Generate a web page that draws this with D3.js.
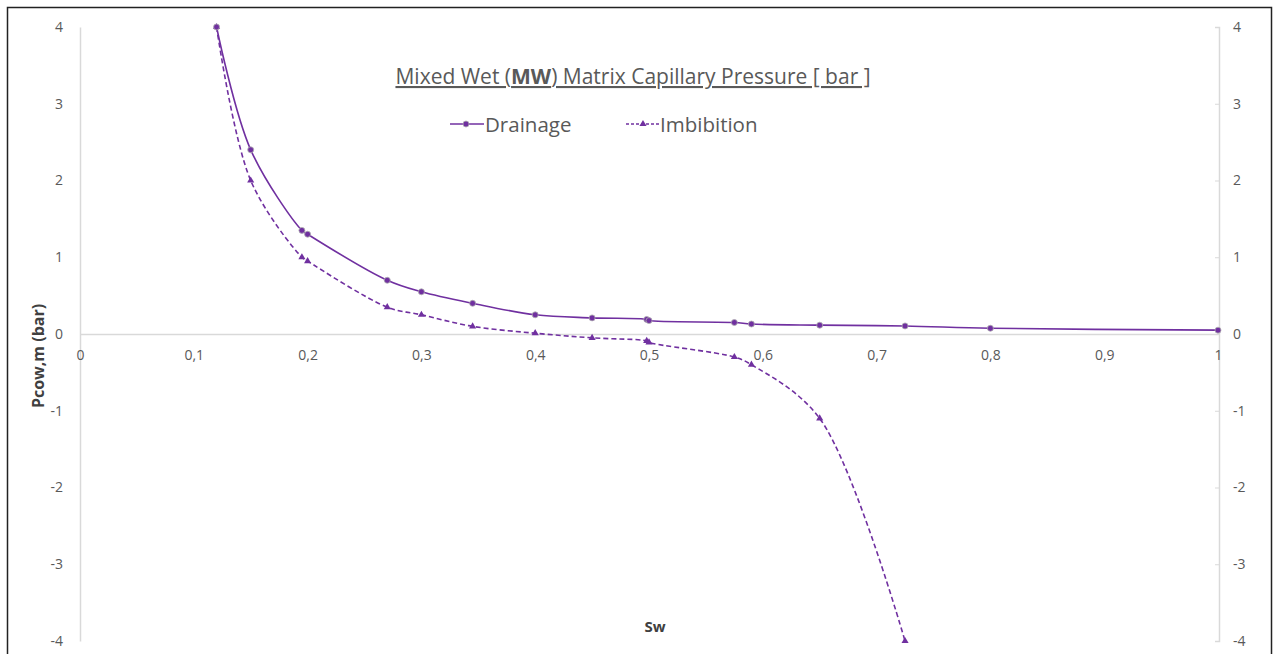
<!DOCTYPE html>
<html>
<head>
<meta charset="utf-8">
<script src="https://cdn.jsdelivr.net/npm/d3@7"></script>
<style>
  html, body { margin: 0; padding: 0; background: #fff; }
  svg { display: block; font-family: "Open Sans", "Liberation Sans", sans-serif; }
</style>
</head>
<body>
<svg id="chart" width="1274" height="654"></svg>
<script>
// Water saturation (Sw) and capillary pressure (bar) for each curve
const drainageSw = [0.12, 0.15, 0.195, 0.2, 0.27, 0.3, 0.345, 0.4, 0.45, 0.498, 0.5, 0.575, 0.59, 0.65, 0.725, 0.8, 1.0];
const drainagePc = [4.0, 2.4, 1.35, 1.3, 0.7, 0.55, 0.4, 0.25, 0.21, 0.19, 0.175, 0.15, 0.13, 0.115, 0.105, 0.075, 0.05];
const imbibitionSw = [0.12, 0.15, 0.195, 0.2, 0.27, 0.3, 0.345, 0.4, 0.45, 0.498, 0.5, 0.575, 0.59, 0.65, 0.725];
const imbibitionPc = [4.0, 2.0, 1.0, 0.95, 0.35, 0.25, 0.1, 0.01, -0.05, -0.09, -0.11, -0.3, -0.4, -1.1, -4.0];

const xTicks = [0, 0.1, 0.2, 0.3, 0.4, 0.5, 0.6, 0.7, 0.8, 0.9, 1];
const yTicks = [-4, -3, -2, -1, 0, 1, 2, 3, 4];
const seriesNames = ["Drainage", "Imbibition"];

const purple = "#7030A0";
const axisGray = "#d9d9d9";
const textGray = "#595959";

const svg = d3.select("#chart");

// Outer frame
svg.append("rect")
  .attr("x", 7.5).attr("y", 7.5)
  .attr("width", 1264).attr("height", 680)
  .attr("fill", "none").attr("stroke", "#222").attr("stroke-width", 1.5);

const x = d3.scaleLinear().domain([0, 1]).range([80, 1218]);
const y = d3.scaleLinear().domain([-4, 4]).range([641, 27]);

// Plain hyphen minus and decimal comma
const fmt = d => String(d).replace(".", ",");

// Left value axis: line plus labels only
const leftAxis = svg.append("g").attr("transform", `translate(${x(0)},0)`)
  .call(d3.axisLeft(y).tickValues(yTicks).tickSize(0).tickPadding(17).tickFormat(fmt));
leftAxis.select(".domain").attr("stroke", axisGray).attr("stroke-width", 1.5);

// Right value axis with short inward ticks
const rightAxis = svg.append("g").attr("transform", `translate(${x(1) + 1},0)`)
  .call(d3.axisRight(y).tickValues(yTicks).tickSizeInner(-4).tickSizeOuter(-4).tickPadding(14).tickFormat(fmt));
rightAxis.select(".domain").attr("stroke", axisGray).attr("stroke-width", 1.5);
rightAxis.selectAll(".tick line").attr("stroke", axisGray);

// Horizontal axis along Pc = 0
const bottomAxis = svg.append("g").attr("transform", `translate(0,${y(0)})`)
  .call(d3.axisBottom(x).tickValues(xTicks).tickSize(0).tickPadding(16).tickFormat(fmt));
bottomAxis.select(".domain").attr("stroke", axisGray).attr("stroke-width", 1.5);

svg.selectAll(".tick text")
  .attr("fill", textGray)
  .style("font-size", "14px")
  .style("font-family", "'Open Sans', sans-serif");

// Curves
const drainage = drainageSw.map((s, i) => ({ s, p: drainagePc[i] }));
const imbibition = imbibitionSw.map((s, i) => ({ s, p: imbibitionPc[i] }));

const line = d3.line()
  .x(d => x(d.s)).y(d => y(d.p))
  .curve(d3.curveCatmullRom.alpha(0.5));

svg.append("path").datum(imbibition)
  .attr("d", line).attr("fill", "none")
  .attr("stroke", purple).attr("stroke-width", 1.6)
  .attr("stroke-dasharray", "5,3");

svg.append("path").datum(drainage)
  .attr("d", line).attr("fill", "none")
  .attr("stroke", purple).attr("stroke-width", 1.6);

const tri = d3.symbol().type(d3.symbolTriangle).size(22);

svg.append("g").selectAll("path").data(imbibition).join("path")
  .attr("d", tri)
  .attr("transform", d => `translate(${x(d.s)},${y(d.p)})`)
  .attr("fill", purple);

svg.append("g").selectAll("circle").data(drainage).join("circle")
  .attr("cx", d => x(d.s)).attr("cy", d => y(d.p)).attr("r", 3)
  .attr("fill", purple).attr("stroke", "#b0b0b0").attr("stroke-width", 0.8);

// Title (underlined, with bold abbreviation)
const title = svg.append("text")
  .attr("x", 633).attr("y", 84)
  .attr("text-anchor", "middle")
  .attr("fill", textGray)
  .style("font-size", "21px")
  .style("text-decoration", "underline");
title.append("tspan").text("Mixed Wet (");
title.append("tspan").attr("font-weight", "bold").text("MW");
title.append("tspan").text(") Matrix Capillary Pressure [ bar ]");

// Legend
const legend = svg.append("g");
legend.append("line").attr("x1", 450).attr("x2", 484).attr("y1", 124).attr("y2", 124)
  .attr("stroke", purple).attr("stroke-width", 1.6);
legend.append("circle").attr("cx", 466).attr("cy", 124).attr("r", 3)
  .attr("fill", purple).attr("stroke", "#b0b0b0").attr("stroke-width", 0.8);
legend.append("text").attr("x", 485).attr("y", 132)
  .attr("fill", textGray).style("font-size", "20.5px").text(seriesNames[0]);

legend.append("line").attr("x1", 626).attr("x2", 659).attr("y1", 124).attr("y2", 124)
  .attr("stroke", purple).attr("stroke-width", 1.6).attr("stroke-dasharray", "3,2");
legend.append("path").attr("d", tri).attr("transform", "translate(643,124)").attr("fill", purple);
legend.append("text").attr("x", 660).attr("y", 132)
  .attr("fill", textGray).style("font-size", "20.5px").text(seriesNames[1]);

// Axis titles
svg.append("text")
  .attr("transform", "translate(44,356) rotate(-90)")
  .attr("text-anchor", "middle")
  .attr("fill", "#404040").attr("font-weight", "bold")
  .style("font-size", "16px")
  .text("Pcow,m (bar)");

svg.append("text")
  .attr("x", 655).attr("y", 632)
  .attr("text-anchor", "middle")
  .attr("fill", "#404040").attr("font-weight", "bold")
  .style("font-size", "15px")
  .text("Sw");
</script>
</body>
</html>
